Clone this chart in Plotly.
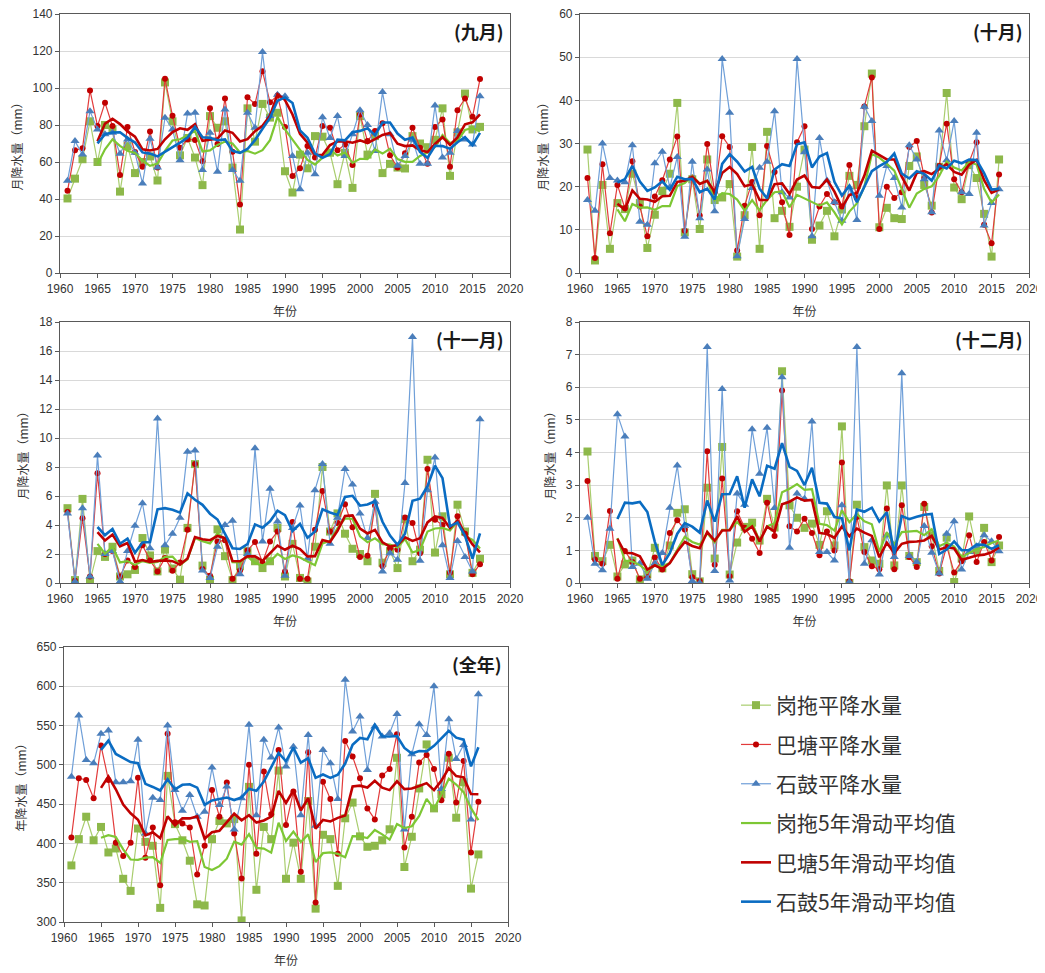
import plotly.graph_objects as go

years = list(range(1961, 2017))

sep_gangtuo = [40.3,51,61.5,82,60,80,77.6,44,68.6,54, 60,63,50,103,82,63.6,73,62.4,47.5,84.8, 78.5,82,57,23.5,89,71,91.4,84,86.6,55, 43.5,64,56.6,74,73.7,65,48,65,46,84.8, 64,74,54,59,57,56.5,74,70,68,72, 89,52.5,76,97,77.6,79]
sep_batang = [44.4,66.3,67.4,98.7,79.4,92,79.4,53,78.9,65.4, 57.5,76.5,57,105,85,67.7,72.2,71.9,60.4,89, 69.7,94.3,65.6,37,95,91.4,109,92.3,95.9,78.9, 52.5,56.6,68.6,62.5,79.4,78.5,66.3,69.5,58.4,85.7, 71.3,76.7,81,63.6,57,64.7,78.5,67.7,59,78.9, 83,57.5,88,94.3,84.4,104.8]
sep_shigu = [49.8,71.3,64,87.5,77.6,75,75.8,64.5,72.2,65, 48.4,72.6,57,83.9,77.6,61,86.2,86.6,55.7,75.8, 54.7,88.4,55.7,49.8,86.6,78.5,119.4,84.8,96.4,95.5, 63.3,45.3,65,53.4,84.2,73,84.8,63.3,75,88, 80,66,97.8,75,58,63.3,72,59,59,90.5, 62.4,65,76.7,72.2,69.5,95.5]

oct_gangtuo = [28.6,2.9,20.4,5.6,16.2,14.8,23,16.2,5.8,13.5, 19,23,39.4,9.4,21.7,10.2,26.3,16.9,17.5,20.6, 3.8,13.4,29.2,5.6,32.7,12.7,14.4,10.7,20,28.6, 7.7,11,14.4,8.5,14.7,22.5,20.4,34,46.2,10.6, 15.1,12.7,12.5,24.8,27,20.4,15.6,24.6,41.7,19.8, 17.1,25,22,13.7,3.8,26.3]
oct_batang = [22,3.5,25.2,9.2,20.4,15,25.9,15.4,8.5,17.7, 21.5,26.3,31.6,9.8,22.1,13.3,29.9,18.7,31.7,29.2, 5.2,15.6,21.1,13.4,29.4,23.4,16.4,8.8,30.3,34, 10.2,15.4,18.3,16.4,15.4,25,17.4,38.6,45.3,10.2, 20,17.4,18.7,29.2,30.6,22,14,24.8,34.6,21.7, 18.7,25.7,30.3,11.2,6.9,22.8]
oct_shigu = [16.9,14.4,30,22,21.4,21,29.6,11.9,11.2,25.4, 28.1,19.8,26.9,8.4,25.8,12.7,24,14.3,49.6,37.1, 3.9,12.5,19.7,24.4,25.8,37.5,18.7,17.5,49.6,28, 8.5,31.3,21.4,16.4,12.1,19.8,12.3,38.5,35.2,17.9, 24.8,22,15.2,29.6,26.3,21.7,14.1,33,26.1,35.2, 18.7,18.3,32.5,11,16.2,19.4]

nov_gangtuo = [5.16,0.2,5.8,0.15,2.2,1.8,2.5,0.45,0.6,0.9, 3.1,1.9,0.8,2.3,1.0,0.23,3.8,8.2,1.2,0.23, 3.7,1.85,0.2,1.15,2.2,1.5,1.03,1.5,3.8,0.45, 2.7,0.35,0.1,2.5,8,3.55,4.8,3.4,2.36,2, 1.5,6.15,1.4,2.2,1.03,4.4,1.5,2.3,8.5,2.1, 4.6,0.6,5.4,3.55,0.7,1.67]
nov_batang = [4.9,0.15,4.47,0.45,7.57,2,2.2,0.45,1.56,1.1, 2.6,1.56,0.8,1.72,0.85,1.42,3.67,8.2,0.96,0.5, 2.87,2.94,0.3,0.87,2.25,2.82,1.42,2.87,3.55,0.8, 4.2,0.3,0.3,3.67,6.35,3.55,4.13,5.43,3.85,1.8, 1.88,5.35,1.15,2.4,2.3,4.52,4.13,2.06,7.87,4.36, 4,0.7,4.6,3.4,0.6,1.3]
nov_shigu = [4.8,0.1,5.16,0.45,8.8,2,2.2,0.1,2.2,3.95, 5.5,2.4,11.35,2.6,3.4,4.5,9.06,9.13,0.87,0.34, 2.5,4,4.3,0.6,2,9.3,2.87,6.5,4.25,0.5, 3.8,5.35,1.67,6.4,8.2,2.7,4.5,7.87,6.8,4.8, 3.1,5.6,0.8,2.06,1.6,6.9,16.97,1.54,6.4,8.65, 2.6,0.34,2.9,1.8,0.8,11.3]

dec_gangtuo = [4.03,0.83,0.67,1.17,0.2,0.57,0.69,0.11,0.26,1.08, 0.45,1.15,2.15,2.26,0.27,0.05,2.92,0.75,4.17,0.26, 1.24,1.72,1.85,1.3,2.58,1.7,6.49,2.38,2.0,1.69, 1.82,1.17,2.2,1.15,4.8,0,2.4,1.1,0.69,0.59, 2.99,0.54,2.99,0.83,0.64,2.33,1.46,0.37,1.39,0.03, 0.75,2.04,1.0,1.69,0.64,1.15]
dec_batang = [3.13,0.72,0.59,2.21,0.13,0.98,0.64,0.13,0.18,0.78, 0.41,1.53,1.92,1.64,0.18,0.06,4.04,0.56,3.2,0.21, 2.2,1.69,1.36,0.92,2.46,1.44,5.9,1.74,1.58,1.97, 1.53,0.85,1.58,1.0,3.69,0.05,2.02,0.95,0.51,0.42, 2.28,0.42,2.38,0.8,0.49,2.43,1.13,0.29,1.13,0.32, 0.67,1.46,0.64,1.26,0.69,1.41]
dec_shigu = [2.0,0.59,0.39,1.66,5.17,4.49,0.49,0.6,0.13,0.6, 0.92,2.31,3.6,1.75,0.06,0.0,7.23,0.37,5.95,0.08, 2.74,2.4,4.71,3.35,4.76,2.3,6.31,1.08,2.74,2.58, 4.95,0.95,0.95,0.69,2.38,0.03,7.23,0.59,1.31,0.26, 1.46,0.8,6.43,0.83,0.64,1.75,0.93,0.29,1.51,1.89, 0.41,0.95,1.13,1.46,1.28,0.97]

ann_gangtuo = [372,405.5,434,404,421,388.5,393.6,355,339.6,419, 402,397,318,486,424.6,404,378,322.5,321,405.5, 428.5,425.5,431,302,472,341,421,405.5,492.7,355, 401,355,454,317,411,405.5,346,432,452,409, 395.7,397,404,418,509,370,408.5,470,526,444.6, 462.5,509,432.7,477.8,342.5,386]
ann_batang = [407.6,483,480.8,457.4,524.6,480.8,401,384,401,483.7, 381.7,420.4,346.8,539.5,427,425.5,420.4,360.4,397,468, 434,477.4,412.7,355.3,500,387,491.4,437,519,423.4, 466,364,516,324.7,478.6,456.5,387,530.5,510.5,483, 444.6,430.6,486.3,494.8,539,394.9,434,503,512.7,494.8, 455,514,452,505,388.5,453]
ann_shigu = [485,562.9,506.3,502,539.5,543.7,477.8,477.8,479,531.8, 412.7,458.2,455.3,550,468,441.6,461.6,434,440.4,496.5, 449,472.3,417.8,457.4,551,436,531.8,509.3,547.6,497.8, 523,436,538,422.5,519,502,456.5,608.4,542.5,561.6, 493.5,548.8,536,540.3,564.6,417.8,513.5,551.8,538,599.9, 469.3,558,507.6,525.4,430.6,590]

panel_titles = ["(九月)", "(十月)", "(十一月)", "(十二月)", "(全年)"]
y_titles = ["月降水量（mm）"] * 4 + ["年降水量（mm）"]
y_ranges = [(0, 140, 20), (0, 60, 10), (0, 18, 2), (0, 8, 1), (300, 650, 50)]
series_names = ["岗拖平降水量", "巴塘平降水量", "石鼓平降水量"]
ma_names = ["岗拖5年滑动平均值", "巴塘5年滑动平均值", "石鼓5年滑动平均值"]

panels = [
    (sep_gangtuo, sep_batang, sep_shigu),
    (oct_gangtuo, oct_batang, oct_shigu),
    (nov_gangtuo, nov_batang, nov_shigu),
    (dec_gangtuo, dec_batang, dec_shigu),
    (ann_gangtuo, ann_batang, ann_shigu),
]


def moving_avg(vals, n=5):
    out = []
    for i in range(len(vals)):
        if i < n - 1:
            out.append(None)
        else:
            out.append(sum(vals[i - n + 1:i + 1]) / n)
    return out


OFF = 8  # page body margin
W, H = 1045 - OFF, 973 - OFF
# plot-area boxes in page pixels (x0, x1, ytop, ybottom)
boxes = [
    (60, 510, 14, 273),
    (580, 1029, 14, 273),
    (60, 510, 322, 583),
    (580, 1029, 322, 583),
    (64, 508, 647, 922),
]


def fx(px):
    return (px - OFF) / W


def fy(py):
    return 1 - (py - OFF) / H


line_cols = ["#A9CD6E", "#E23B3B", "#6F9FD8"]
mark_cols = ["#8DB84A", "#C00000", "#4A7EBB"]
symbols = ["square", "circle", "triangle-up"]
msizes = [8, 6, 8]
ma_cols = ["#7DC734", "#C00000", "#0A6CC2"]

CJK = "Noto Sans CJK SC"
NUM = "Liberation Sans"

fig = go.Figure()
layout = {}
annotations = []

for p, (vals3, box, yr, title, ytitle) in enumerate(zip(panels, boxes, y_ranges, panel_titles, y_titles)):
    ax = "" if p == 0 else str(p + 1)
    xref, yref = "x" + ax, "y" + ax
    for k in range(3):
        fig.add_trace(go.Scatter(
            x=years, y=vals3[k], mode="lines+markers", name=series_names[k],
            line=dict(color=line_cols[k], width=1.2),
            marker=dict(symbol=symbols[k], size=msizes[k], color=mark_cols[k],
                        line=dict(width=0)),
            xaxis=xref, yaxis=yref, showlegend=(p == 0), legendgroup=str(k),
        ))
    for k in range(3):
        fig.add_trace(go.Scatter(
            x=years, y=moving_avg(vals3[k]), mode="lines", name=ma_names[k],
            line=dict(color=ma_cols[k], width=2.6 if k > 0 else 2.2),
            xaxis=xref, yaxis=yref, showlegend=(p == 0), legendgroup=str(k + 3),
            connectgaps=False,
        ))
    x0, x1, yt, yb = box
    layout["xaxis" + ax] = dict(
        domain=[fx(x0), fx(x1)], range=[1960, 2020], dtick=5, tick0=1960,
        anchor=yref, showgrid=False, zeroline=False, showline=True, mirror=True,
        linecolor="#595959", linewidth=1.2, ticks="outside", ticklen=4,
        tickcolor="#595959", tickfont=dict(family=NUM, size=12, color="#333333"),
        automargin=False, ticklabeloverflow="allow",
        title=dict(text="年份", font=dict(family=CJK, size=12, color="#333333"), standoff=13),
    )
    layout["yaxis" + ax] = dict(
        domain=[fy(yb), fy(yt)], range=[yr[0], yr[1]], dtick=yr[2], tick0=yr[0],
        anchor=xref, showgrid=True, gridcolor="#D9D9D9", gridwidth=1, zeroline=False,
        showline=True, mirror=True, linecolor="#595959", linewidth=1.2,
        ticks="outside", ticklen=4, tickcolor="#595959",
        tickfont=dict(family=NUM, size=12, color="#333333"),
        automargin=False, ticklabeloverflow="allow",
        title=dict(text=ytitle, font=dict(family=CJK, size=12, color="#333333"), standoff=7),
    )
    annotations.append(dict(
        text="<b>" + title + "</b>", xref="paper", yref="paper",
        x=fx(x1 - 4), y=fy(yt + 2), xanchor="right", yanchor="top",
        showarrow=False, font=dict(family=CJK, size=18, color="#1a1a1a"),
    ))

fig.update_layout(
    width=W, height=H, margin=dict(l=0, r=0, t=0, b=0),
    paper_bgcolor="white", plot_bgcolor="white",
    annotations=annotations,
    legend=dict(x=fx(736), y=fy(685), xanchor="left", yanchor="top",
                font=dict(family=CJK, size=21, color="#333333"),
                tracegroupgap=9, itemwidth=30, bgcolor="rgba(0,0,0,0)"),
    **layout,
)

fig.write_html("out.html")
